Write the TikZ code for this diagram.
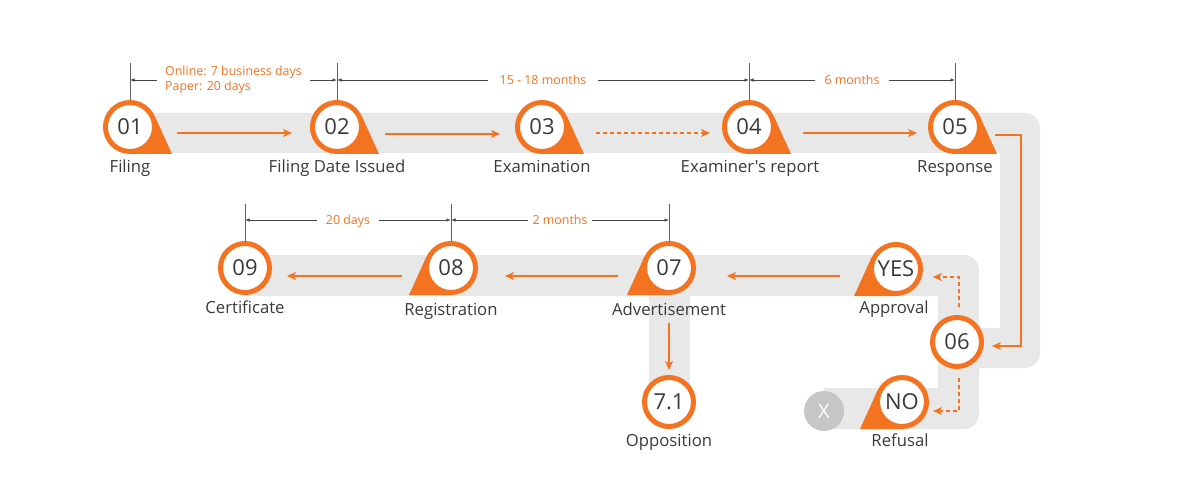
\documentclass[tikz,border=0pt]{standalone}
\usepackage{fontspec}
\setmainfont{Open Sans}[Ligatures=TeXOff]
\usetikzlibrary{arrows.meta,calc}
\definecolor{org}{HTML}{F37321}
\definecolor{bandc}{HTML}{E8E8E8}
\definecolor{txt}{HTML}{3A3A3A}
\definecolor{dimc}{HTML}{444444}
\definecolor{xg}{HTML}{C6C6C6}
\newcommand\tailR[2]{\fill[org] (#1,#2) -- ++(24.6,-11.2) -- ++(17.4,38.2) -- ++(-42,0) -- cycle;}
\newcommand\tailL[2]{\fill[org] (#1,#2) -- ++(-24.6,-11.2) -- ++(-17.4,38.2) -- ++(42,0) -- cycle;}
\begin{document}
\begin{tikzpicture}[x=1pt,y=-1pt,
  pinc/.style={circle, draw=org, line width=5pt, fill=white, minimum size=49pt, inner sep=0pt, text=txt, font=\fontsize{22}{22}\selectfont},
  lbl/.style={text=txt, font=\fontsize{16.7}{16.7}\selectfont, inner sep=0pt, anchor=base},
  oarr/.style={draw=org, line width=1.3pt, -{Stealth[length=9pt,width=8pt,inset=2.5pt]}},
  dsh/.style={dash pattern=on 4pt off 3pt},
  dim/.style={draw=dimc, line width=0.8pt, {Latex[length=4.5pt,width=3.5pt]}-{Latex[length=4.5pt,width=3.5pt]}},
  tick/.style={draw=dimc!85, line width=0.8pt},
  dtxt/.style={midway, fill=white, text=org, font=\fontsize{12.4}{15}\selectfont, inner ysep=1pt, text depth=0pt},
  xcirc/.style={circle, fill=xg, minimum size=40pt, inner sep=0pt, text=white, font=\fontsize{20}{20}\selectfont}
]
\useasboundingbox (0,0) rectangle (1200,500);
\fill[white] (0,0) rectangle (1200,500);
% gray bands
\fill[bandc] (130,113) -- (1025,113) .. controls (1033.3,113) and (1040,119.7) .. (1040,128) -- (1040,353) .. controls (1040,361.3) and (1033.3,368) .. (1025,368) -- (979,368) -- (979,328) -- (1000,328) -- (1000,153) -- (130,153) -- cycle;
\fill[bandc] (245,255) -- (964,255) .. controls (972.3,255) and (979,261.7) .. (979,270) -- (979,414) .. controls (979,422.3) and (972.3,429) .. (964,429) -- (824,429) -- (824,388) -- (938,388) -- (938,296) -- (245,296) -- cycle;
\fill[bandc] (649,296) rectangle (690,402);
% X
\node[xcirc] (nx) at (824,411) {X};
% tails
\tailR{130}{127}
\tailR{337}{127}
\tailR{542}{127}
\tailR{749}{127}
\tailR{955}{127}
\tailL{896}{269}
\tailL{902}{402}
\tailL{669}{268}
\tailL{451}{268}
% pins
\node[pinc] (n01) at (130,127) {01};
\node[pinc] (n02) at (337,127) {02};
\node[pinc] (n03) at (542,127) {03};
\node[pinc] (n04) at (749,127) {04};
\node[pinc] (n05) at (955,127) {05};
\node[pinc] (n06) at (957,342) {06};
\node[pinc] (nyes) at (896,269) {YES};
\node[pinc] (nno) at (902,402) {NO};
\node[pinc] (n07) at (669,268) {07};
\node[pinc] (n71) at (669,402) {7.1};
\node[pinc] (n08) at (451,268) {08};
\node[pinc] (n09) at (245,268) {09};
% labels
\node[lbl] (l01) at (130,173) {Filing};
\node[lbl] (l02) at (337,173) {Filing Date Issued};
\node[lbl] (l03) at (542,173) {Examination};
\node[lbl] (l04) at (750,173) {Examiner's report};
\node[lbl] (l05) at (955,173) {Response};
\node[lbl] (lyes) at (894,313) {Approval};
\node[lbl] (lno) at (900,446) {Refusal};
\node[lbl] (l07) at (669,315) {Advertisement};
\node[lbl] (l71) at (669,446) {Opposition};
\node[lbl] (l08) at (451,315) {Registration};
\node[lbl] (l09) at (245,313) {Certificate};
% connectors
\draw[oarr] ([xshift=20pt,yshift=-6pt]n01.east) -- ([xshift=-18pt,yshift=-6pt]n02.west);
\draw[oarr] ([xshift=21pt,yshift=-7pt]n02.east) -- ([xshift=-15pt,yshift=-7pt]n03.west);
\draw[oarr,dsh] ([xshift=27pt,yshift=-6pt]n03.east) -- ([xshift=-12pt,yshift=-6pt]n04.west);
\draw[oarr] ([xshift=27pt,yshift=-6pt]n04.east) -- ([xshift=-11pt,yshift=-6pt]n05.west);
\draw[oarr] ([xshift=13pt,yshift=-8pt]n05.east) -| ([xshift=37pt,yshift=-4pt]n06.east) -- ([xshift=8pt,yshift=-4pt]n06.east);
\draw[oarr,dsh] ([xshift=2pt,yshift=8pt]n06.north) |- ([xshift=10pt,yshift=-8pt]nyes.east);
\draw[oarr,dsh] ([xshift=2pt,yshift=-9pt]n06.south) |- ([xshift=4pt,yshift=-9pt]nno.east);
\draw[oarr] ([xshift=-29pt,yshift=-7pt]nyes.west) -- ([xshift=31pt,yshift=-8pt]n07.east);
\draw[oarr] ([xshift=-24pt,yshift=-8pt]n07.west) -- ([xshift=27pt,yshift=-8pt]n08.east);
\draw[oarr] ([xshift=-22pt,yshift=-8pt]n08.west) -- ([xshift=15pt,yshift=-8pt]n09.east);
\draw[oarr] ([yshift=-28pt]n07.south) -- ([yshift=5pt]n71.north);
% dimension ticks
\coordinate (t01) at (130,63);
\coordinate (t02) at (337,63);
\coordinate (t04) at (749,63);
\coordinate (t05) at (955,63);
\coordinate (t07) at (669,204);
\coordinate (t08) at (451,204);
\coordinate (t09) at (245,204);
\draw[tick] (n01.north) -- (t01);
\draw[tick] (n02.north) -- (t02);
\draw[tick] (n04.north) -- (t04);
\draw[tick] (n05.north) -- (t05);
\draw[tick] (n07.north) -- (t07);
\draw[tick] (n08.north) -- (t08);
\draw[tick] (n09.north) -- (t09);
% dimension lines
\coordinate (a01) at (130,80);
\coordinate (a02) at (337,80);
\coordinate (a04) at (749,80);
\coordinate (a05) at (955,80);
\coordinate (a07) at (669,220);
\coordinate (a08) at (451,220);
\coordinate (a09) at (245,220);
\draw[dim] (a01) -- node[dtxt, align=left, inner xsep=8pt, text depth=] (dt1) {Online: 7 business days\\Paper: 20 days} (a02);
\draw[dim] (a02) -- node[dtxt, inner xsep=12pt] (dt2) {15 - 18 months} (a04);
\draw[dim] (a04) -- node[dtxt, inner xsep=10pt] (dt3) {6 months} (a05);
\draw[dim] (a09) -- node[dtxt, inner xsep=9pt] (dt4) {20 days} (a08);
\draw[dim] (a08) -- node[dtxt, inner xsep=5pt] (dt5) {2 months} (a07);
\end{tikzpicture}
\end{document}
